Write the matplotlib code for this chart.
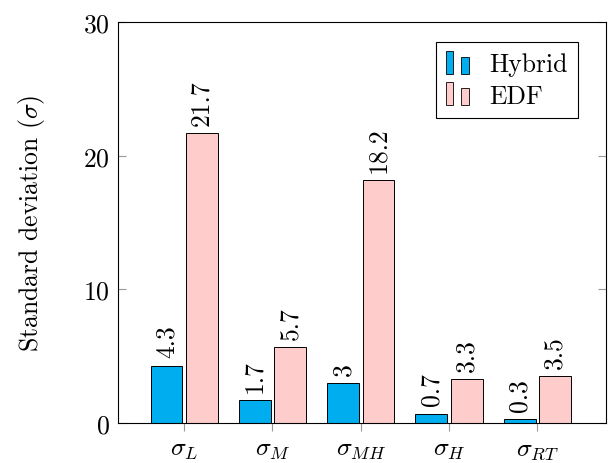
import matplotlib.pyplot as plt
import numpy as np
from matplotlib.legend_handler import HandlerBase
from matplotlib.patches import Rectangle

plt.rcParams['font.family'] = 'cmr10'
plt.rcParams['mathtext.fontset'] = 'cm'
plt.rcParams['axes.formatter.use_mathtext'] = True

categories = [r'$\sigma_L$', r'$\sigma_M$', r'$\sigma_{MH}$', r'$\sigma_H$', r'$\sigma_{RT}$']
hybrid = [4.3, 1.7, 3.0, 0.7, 0.3]
edf = [21.7, 5.7, 18.2, 3.3, 3.5]
hybrid_labels = ['4.3', '1.7', '3', '0.7', '0.3']
edf_labels = ['21.7', '5.7', '18.2', '3.3', '3.5']

HYBRID_COLOR = '#00AEEF'
EDF_COLOR = '#FFCCCC'
FS = 18.5


class TwoBarHandler(HandlerBase):
    """pgfplots-style legend image: two small bars."""
    def create_artists(self, legend, orig_handle, xdescent, ydescent,
                       width, height, fontsize, trans):
        fc = orig_handle.patches[0].get_facecolor()
        w = width * 0.28
        y0 = -ydescent - 2
        r1 = Rectangle((-xdescent, y0), w, height * 1.3,
                       facecolor=fc, edgecolor='black', lw=0.6, transform=trans)
        r2 = Rectangle((-xdescent + width * 0.6, y0), w, height * 0.95,
                       facecolor=fc, edgecolor='black', lw=0.6, transform=trans)
        return [r1, r2]


fig = plt.figure(figsize=(6.08, 4.64), dpi=100)
ax = fig.add_axes([0.194, 0.086, 0.803, 0.864])

x = np.arange(len(categories))
w = 0.36
off = 0.2
b1 = ax.bar(x - off, hybrid, w, color=HYBRID_COLOR, edgecolor='black', lw=0.7, label='Hybrid')
b2 = ax.bar(x + off, edf, w, color=EDF_COLOR, edgecolor='black', lw=0.7, label='EDF')

for bars, labels in [(b1, hybrid_labels), (b2, edf_labels)]:
    for bar, lab in zip(bars, labels):
        ax.annotate(lab, (bar.get_x() + bar.get_width() / 2, bar.get_height()),
                    xytext=(0, 6), textcoords='offset points',
                    rotation=90, ha='center', va='bottom', fontsize=FS)

ax.set_xlim(-0.75, 4.78)
ax.set_ylim(0, 30)
ax.set_yticks([0, 10, 20, 30])
ax.set_xticks(x)
ax.set_xticklabels(categories, fontsize=FS)
ax.tick_params(axis='y', direction='in', length=6, color='#999999',
               labelsize=FS, right=True, pad=6)
ax.tick_params(axis='x', direction='out', length=6, color='#999999', pad=4)
ax.set_ylabel(r'Standard deviation ($\sigma$)', fontsize=FS, labelpad=26)

for s in ax.spines.values():
    s.set_linewidth(0.8)

ax.legend(handler_map={b1: TwoBarHandler(), b2: TwoBarHandler()},
          handles=[b1, b2], loc='upper right', bbox_to_anchor=(0.943, 0.950),
          borderaxespad=0, fontsize=FS, frameon=True, fancybox=False,
          edgecolor='black', framealpha=1, handlelength=1.0, handletextpad=0.7,
          borderpad=0.4, labelspacing=0.3)
ax.get_legend().get_frame().set_linewidth(0.8)

plt.savefig('out.png', dpi=100)
